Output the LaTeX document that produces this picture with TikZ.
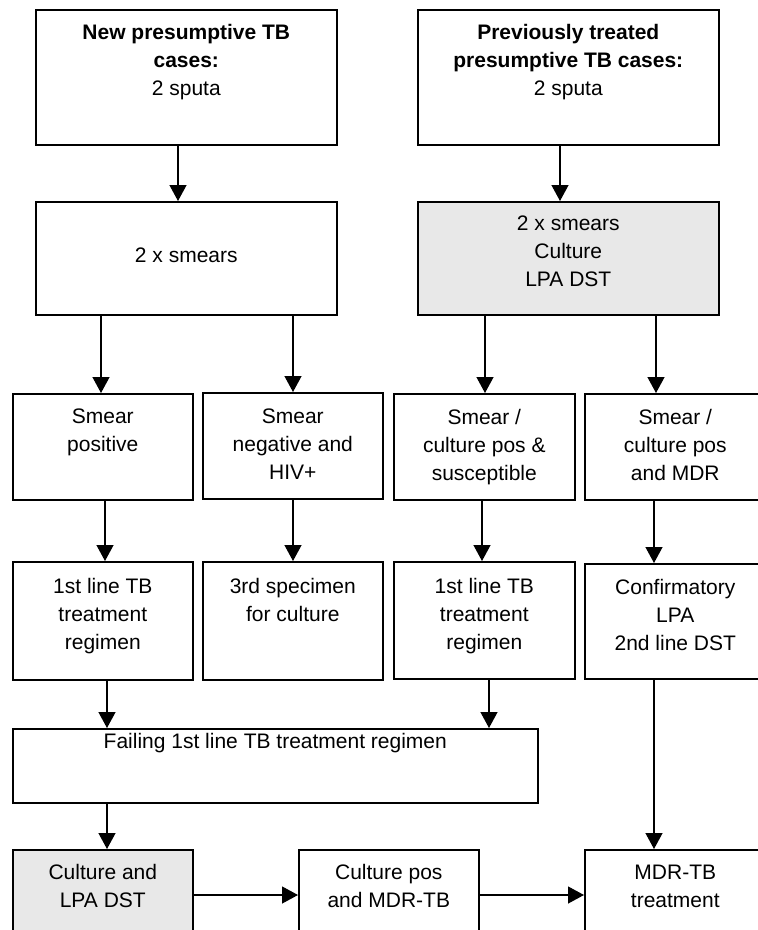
\documentclass[tikz,border=0pt]{standalone}
\usepackage{fontspec}
\setmainfont{Liberation Sans}
\usetikzlibrary{arrows.meta,calc}
\definecolor{boxgray}{HTML}{E8E8E8}
\begin{document}
\begin{tikzpicture}[x=1pt,y=-1pt,
  box/.style={draw=black, line width=1.6pt, fill=white, anchor=north west, inner sep=0pt},
  greybox/.style={box, fill=boxgray},
  lbl/.style={anchor=north, align=center, inner sep=0pt, font=\fontsize{21}{28}\selectfont},
  arr/.style={line width=1.3pt, -{Triangle[width=17pt,length=16pt]}}]
\useasboundingbox (0,0) rectangle (758,930);
\fill[white] (0,0) rectangle (758,930);
\clip (0,0) rectangle (758,930);

% boxes
\node[box, minimum width=301pt, minimum height=135pt] (A) at (35,9) {};
\node[box, minimum width=301pt, minimum height=135pt] (B) at (417,9) {};
\node[box, minimum width=301pt, minimum height=113pt] (C) at (35,201) {};
\node[greybox, minimum width=301pt, minimum height=113pt] (D) at (417,201) {};
\node[box, minimum width=180pt, minimum height=106pt] (E) at (12,393) {};
\node[box, minimum width=180pt, minimum height=106pt] (F) at (202,392) {};
\node[box, minimum width=181pt, minimum height=106pt] (G) at (393,393) {};
\node[box, minimum width=181pt, minimum height=106pt] (H) at (584,393) {};
\node[box, minimum width=180pt, minimum height=118pt] (I) at (12,561) {};
\node[box, minimum width=180pt, minimum height=118pt] (J) at (202,561) {};
\node[box, minimum width=181pt, minimum height=117pt] (K) at (393,561) {};
\node[box, minimum width=181pt, minimum height=115pt] (L) at (584,563) {};
\node[box, minimum width=525pt, minimum height=74pt] (M) at (12,728) {};
\node[greybox, minimum width=180pt, minimum height=100pt] (N) at (12,849) {};
\node[box, minimum width=180pt, minimum height=100pt] (O) at (298,849) {};
\node[box, minimum width=181pt, minimum height=100pt] (P) at (584,849) {};

% labels
\node[lbl] (tA) at ($(A.north)+(0,15)$) {\textbf{New presumptive TB}\\\textbf{cases:}\\2 sputa};
\node[lbl] (tB) at ($(B.north)+(0,15)$) {\textbf{Previously treated}\\\textbf{presumptive TB cases:}\\2 sputa};
\node[lbl] (tC) at ($(C.north)+(0,47)$) {2 x smears};
\node[lbl] (tD) at ($(D.north)+(0,15)$) {2 x smears\\Culture\\LPA DST};
\node[lbl] (tE) at ($(E.north)+(0,16)$) {Smear\\positive};
\node[lbl] (tF) at ($(F.north)+(0,17)$) {Smear\\negative and\\HIV+};
\node[lbl] (tG) at ($(G.north)+(0,16)$) {Smear /\\culture pos \&\\susceptible};
\node[lbl] (tH) at ($(H.north)+(0,16)$) {Smear /\\culture pos\\and MDR};
\node[lbl] (tI) at ($(I.north)+(0,17)$) {1st line TB\\treatment\\regimen};
\node[lbl] (tJ) at ($(J.north)+(0,17)$) {3rd specimen\\for culture};
\node[lbl] (tK) at ($(K.north)+(0,17)$) {1st line TB\\treatment\\regimen};
\node[lbl] (tL) at ($(L.north)+(0,16)$) {Confirmatory\\LPA\\2nd line DST};
\node[lbl] (tM) at ($(M.north)+(0,5)$) {Failing 1st line TB treatment regimen};
\node[lbl] (tN) at ($(N.north)+(0,15)$) {Culture and\\LPA DST};
\node[lbl] (tO) at ($(O.north)+(0,15)$) {Culture pos\\and MDR-TB};
\node[lbl] (tP) at ($(P.north)+(0,16)$) {MDR-TB\\treatment};

% arrow columns
\coordinate (x1) at (178,0);
\coordinate (x2) at (560,0);
\coordinate (x3) at (101,0);
\coordinate (x4) at (293,0);
\coordinate (x5) at (485,0);
\coordinate (x6) at (656,0);
\coordinate (x7) at (105,0);
\coordinate (x8) at (482,0);
\coordinate (x9) at (654,0);
\coordinate (x10) at (107,0);
\coordinate (x11) at (489,0);
\coordinate (yr) at (0,895);

\draw[arr] (A.south -| x1) -- (C.north -| x1);
\draw[arr] (B.south -| x2) -- (D.north -| x2);
\draw[arr] (C.south -| x3) -- (E.north -| x3);
\draw[arr] (C.south -| x4) -- (F.north -| x4);
\draw[arr] (D.south -| x5) -- (G.north -| x5);
\draw[arr] (D.south -| x6) -- (H.north -| x6);
\draw[arr] (E.south -| x7) -- (I.north -| x7);
\draw[arr] (F.south -| x4) -- (J.north -| x4);
\draw[arr] (G.south -| x8) -- (K.north -| x8);
\draw[arr] (H.south -| x9) -- (L.north -| x9);
\draw[arr] (I.south -| x10) -- (M.north -| x10);
\draw[arr] (K.south -| x11) -- (M.north -| x11);
\draw[arr] (M.south -| x10) -- (N.north -| x10);
\draw[arr] (L.south -| x9) -- (P.north -| x9);
\draw[arr] (N.east |- yr) -- (O.west |- yr);
\draw[arr] (O.east |- yr) -- (P.west |- yr);
\end{tikzpicture}
\end{document}
